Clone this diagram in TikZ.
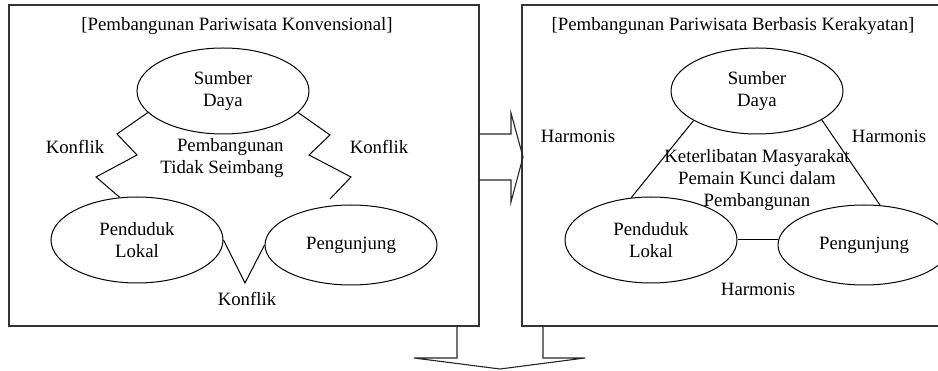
\documentclass[tikz,border=0pt]{standalone}
\usepackage{fontspec}
\setmainfont{Liberation Serif}
\usetikzlibrary{shapes.geometric}
\begin{document}
\begin{tikzpicture}[x=1pt,y=-1pt,
  every node/.style={font=\fontsize{18.8}{22}\selectfont, inner sep=0pt},
  ell/.style={ellipse, draw, line width=1pt, minimum width=172pt, minimum height=86pt, align=center},
  frame/.style={draw, line width=1.3pt, color=black!80},
  conn/.style={draw, line width=1pt},
  blockarrow/.style={draw, line width=1.1pt, color=black!85, line join=miter},
  lbl/.style={align=center}]
\clip (0,0) rectangle (938,371);
% frames
\draw[frame] (9,5) rectangle (479,326);
\draw[frame] (522,5) rectangle (960,326);
% block arrows
\draw[blockarrow] (479,134) -- (511,134) -- (511,113) -- (523,157) -- (511,202) -- (511,180) -- (479,180);
\draw[blockarrow] (457,326) -- (457,358) -- (414,358) -- (500,369) -- (585,358) -- (543,358) -- (543,326);
% titles
\node (t1) at (237,26) {[Pembangunan Pariwisata Konvensional]};
\node (t2) at (733,26) {[Pembangunan Pariwisata Berbasis Kerakyatan]};
% left panel
\node[ell] (sdL) at (223,91) {Sumber\\Daya};
\node[ell] (pdL) at (137,240) {Penduduk\\Lokal};
\node[ell, minimum height=80pt] (pgL) at (351,245) {Pengunjung};
\coordinate (zend) at (330,199);
\draw[conn] (sdL.196) -- (117,134) -- (137,155) -- (96,177) -- (pdL.112);
\draw[conn] (sdL.-16) -- (330,135) -- (309,155) -- (351,177) -- (zend);
\draw[conn] (pdL.east) -- (245,283) -- (pgL.west);
\node (k1) at (75,147) {Konflik};
\node (k2) at (379,147) {Konflik};
\node (k3) at (247,299) {Konflik};
\node[align=right] (pts) at (222,158) {Pembangunan\\Tidak Seimbang};
% right panel
\node[ell] (sdR) at (757,91) {Sumber\\Daya};
\node[ell] (pdR) at (651,240) {Penduduk\\Lokal};
\node[ell, minimum height=80pt] (pgR) at (864,245) {Pengunjung};
\draw[conn] (sdR.205) -- (pdR.115);
\draw[conn] (sdR.-24) -- (pgR.68);
\draw[conn] (pdR.east) -- (pdR.east -| pgR.west);
\node (h1) at (578,136) {Harmonis};
\node (h2) at (889,136) {Harmonis};
\node (h3) at (758,289) {Harmonis};
\node[lbl] (kmp) at (757,180) {Keterlibatan Masyarakat\\Pemain Kunci dalam\\Pembangunan};
\end{tikzpicture}
\end{document}
